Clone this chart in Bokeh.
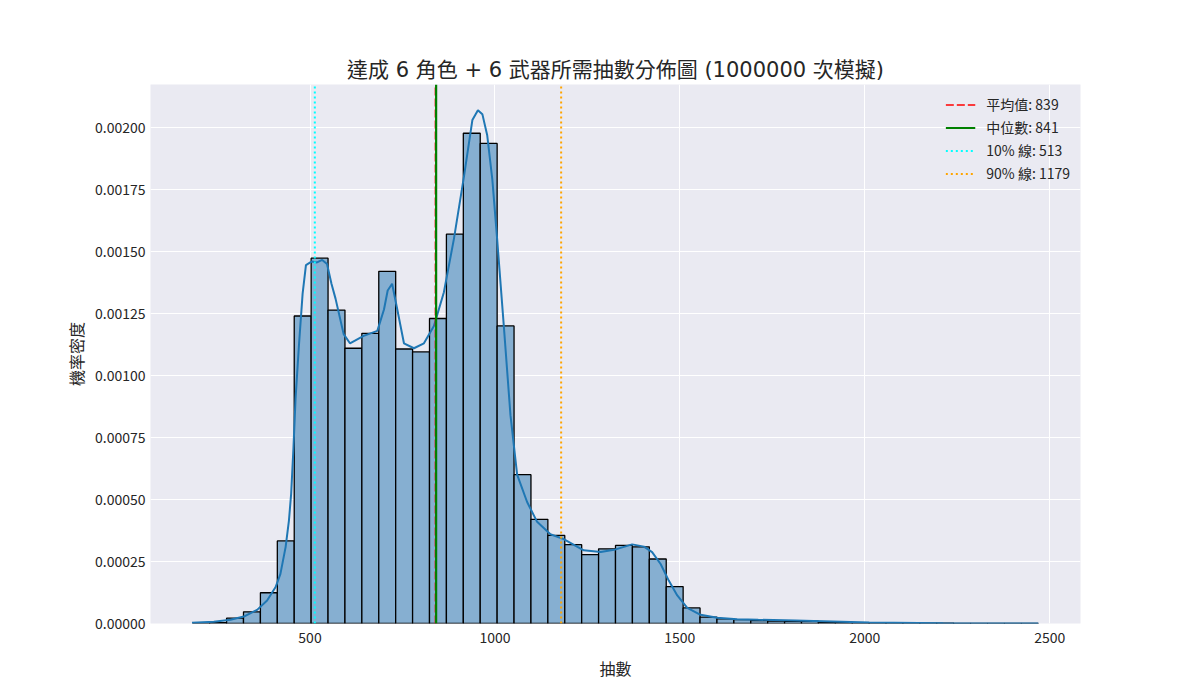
from bokeh.plotting import figure
from bokeh.models import FixedTicker, PrintfTickFormatter, Range1d
from bokeh.embed import file_html
from bokeh.resources import INLINE
import numpy as np

FONT = "Noto Sans CJK TC"
TITLE_FONT = "DejaVu Sans, Noto Sans CJK TC"
TEXT = "#262626"

title = "達成 6 角色 + 6 武器所需抽數分佈圖 (1000000 次模擬)"

# histogram: 50 equal bins between the fewest and the most pulls
pull_min = 183
pull_max = 2469
bin_density = [
    0.000001, 0.000003, 0.0000215, 0.000047, 0.000124,
    0.000333, 0.00124, 0.001473, 0.001264, 0.00111,
    0.00117, 0.00142, 0.001107, 0.001095, 0.00123,
    0.00157, 0.001977, 0.001936, 0.0012, 0.0006,
    0.00042, 0.000355, 0.000318, 0.000278, 0.000301,
    0.000315, 0.000309, 0.00026, 0.000149, 0.000063,
    0.000026, 0.000019, 0.000016, 0.000012, 0.00001,
    0.000009, 0.000009, 0.000006, 0.000004, 0.000003,
    0.0000025, 0.000002, 0.0000015, 0.000001, 0.000001,
    0.0000007, 0.0000005, 0.0000004, 0.0000003, 0.0000002,
]

# kde curve
kde_x = [181, 240, 285, 321, 357, 384, 407, 420, 434, 443, 449, 455, 461, 470,
         480, 489, 505, 519, 533, 546, 558, 569, 591, 608, 645, 682, 700, 710,
         722, 736, 754, 781, 808, 835, 862, 889, 916, 939, 954, 966, 979, 993,
         1006, 1024, 1042, 1060, 1087, 1114, 1150, 1186, 1240, 1286, 1322, 1371,
         1403, 1425, 1448, 1470, 1493, 1520, 1556, 1601, 1655, 1712, 1812, 1912,
         2012, 2212, 2469]
kde_y = [0.000003, 0.0000067, 0.000015, 0.000028, 0.000055, 0.000093, 0.000147,
         0.0002, 0.000308, 0.000415, 0.000523, 0.0007, 0.00091, 0.00112,
         0.00133, 0.001445, 0.00146, 0.001456, 0.001466, 0.00145, 0.00137,
         0.00131, 0.001167, 0.00113, 0.00116, 0.00118, 0.001266, 0.001343,
         0.00137, 0.001266, 0.00113, 0.00111, 0.00113, 0.0012, 0.001336,
         0.00155, 0.0018, 0.00203, 0.00207, 0.002054, 0.00197, 0.00179,
         0.00155, 0.0012, 0.00084, 0.0006, 0.00049, 0.00041, 0.00036, 0.00034,
         0.000295, 0.000288, 0.000297, 0.000319, 0.00031, 0.000288, 0.00024,
         0.000173, 0.000113, 0.000063, 0.000035, 0.000023, 0.000017, 0.000015,
         0.000012, 0.000008, 0.000004, 0.0000013, 0.0]

stat_names = ["平均值", "中位數", "10% 線", "90% 線"]
stat_values = [839, 841, 513, 1179]
stat_colors = ["red", "green", "cyan", "orange"]
stat_dashes = ["8 3", "solid", "2 3", "2 3"]
stat_widths = [1.5, 2.2, 2, 2]

x_ticks = [500, 1000, 1500, 2000, 2500]
y_ticks = [0.0, 0.00025, 0.0005, 0.00075, 0.001, 0.00125, 0.0015, 0.00175, 0.002]

span = pull_max - pull_min
x_lo, x_hi = pull_min - 0.05 * span, pull_max + 0.05 * span
y_top = max(kde_y) * 1.05

p = figure(width=1190, height=695, output_backend="svg", toolbar_location=None,
           x_range=Range1d(x_lo, x_hi), y_range=Range1d(0, y_top),
           min_border_left=150, min_border_right=110, min_border_top=84,
           min_border_bottom=72, title=title)

p.background_fill_color = "#EAEAF2"
p.border_fill_color = "white"
p.outline_line_color = None
p.grid.grid_line_color = "white"
p.grid.grid_line_width = 1

p.title.align = "center"
p.title.text_font = TITLE_FONT
p.title.text_font_size = "21px"
p.title.text_font_style = "normal"
p.title.text_color = TEXT
p.title.standoff = 6

# bars
edges = np.linspace(pull_min, pull_max, len(bin_density) + 1)
p.quad(left=edges[:-1], right=edges[1:], bottom=0, top=bin_density,
       fill_color="#86AFD1", fill_alpha=1.0, line_color="black", line_width=1.3)

# kde
p.line(kde_x, kde_y, line_color="#1f77b4", line_width=2)

# reference lines
for name, val, col, dash, lw in zip(stat_names, stat_values, stat_colors,
                                    stat_dashes, stat_widths):
    p.line([val, val], [0, y_top], line_color=col, line_dash=dash, line_width=lw,
           legend_label=f"{name}: {val}")

p.xaxis.ticker = FixedTicker(ticks=x_ticks)
p.yaxis.ticker = FixedTicker(ticks=y_ticks)
p.yaxis.formatter = PrintfTickFormatter(format="%.5f")

p.xaxis.axis_label = "抽數"
p.yaxis.axis_label = "機率密度"
for ax in (p.xaxis, p.yaxis):
    ax.axis_line_color = None
    ax.major_tick_line_color = None
    ax.minor_tick_line_color = None
    ax.major_tick_out = 0
    ax.major_tick_in = 0
    ax.major_label_text_font = FONT
    ax.major_label_text_font_size = "14px"
    ax.major_label_text_color = TEXT
    ax.axis_label_text_font = FONT
    ax.axis_label_text_font_size = "16px"
    ax.axis_label_text_font_style = "normal"
    ax.axis_label_text_color = TEXT
p.xaxis.major_label_standoff = 8
p.yaxis.major_label_standoff = 5
p.xaxis.axis_label_standoff = 10
p.yaxis.axis_label_standoff = 4

p.legend.location = "top_right"
p.legend.background_fill_alpha = 0
p.legend.border_line_color = None
p.legend.label_text_font = FONT
p.legend.label_text_font_size = "14px"
p.legend.label_text_color = TEXT
p.legend.glyph_width = 30
p.legend.glyph_height = 17
p.legend.label_height = 17
p.legend.spacing = 3
p.legend.padding = 6
p.legend.margin = 10
p.legend.label_standoff = 11

open("out.html", "w").write(file_html(p, INLINE))
